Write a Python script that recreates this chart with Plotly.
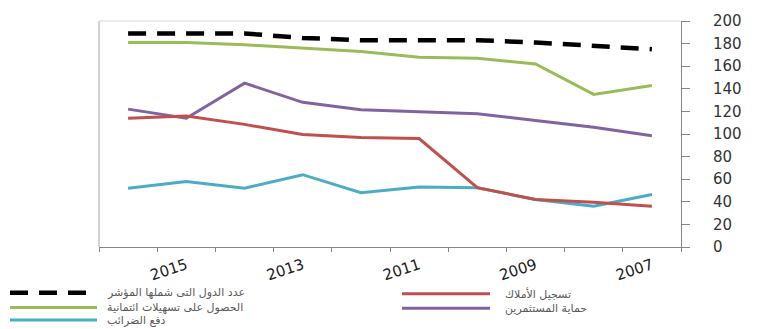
import plotly.graph_objects as go

years = ["2016", "2015", "2014", "2013", "2012", "2011", "2010", "2009", "2008", "2007"]
tick_text = ["", "2015", "", "2013", "", "2011", "", "2009", "", "2007"]

economies = [189, 189, 189, 185, 183, 183, 183, 181, 178, 175]
credit = [181, 181, 179, 176, 173, 168, 167, 162, 135, 143]
investors = [122, 114, 145, 128, 121.5, 119.5, 118, 112, 106, 98.5]
property_reg = [114, 116, 108.5, 99.5, 97, 96, 52.5, 42, 39.5, 36]
taxes = [52, 58, 52, 64, 48, 53, 52.5, 42, 36, 46.5]

names = {
    "economies": "عدد الدول التى شملها المؤشر",
    "credit": "الحصول على تسهيلات ائتمانية",
    "taxes": "دفع الضرائب",
    "property": "تسجيل الأملاك",
    "investors": "حماية المستثمرين",
}
colors = {
    "economies": "#000000",
    "credit": "#9BBB59",
    "taxes": "#4BACC6",
    "property": "#C0504D",
    "investors": "#8064A2",
}
widths = {"economies": 4.5, "credit": 3, "taxes": 3, "property": 3, "investors": 3}
dashes = {"economies": "18px,11px", "credit": "solid", "taxes": "solid", "property": "solid", "investors": "solid"}
series = {
    "economies": economies,
    "credit": credit,
    "investors": investors,
    "property": property_reg,
    "taxes": taxes,
}

W, H = 757, 329
L, R, T, B = 99, 681, 15, 247

fig = go.Figure()
for key in ["taxes", "investors", "property", "credit", "economies"]:
    fig.add_trace(go.Scatter(
        x=years, y=series[key], mode="lines", name=names[key],
        line=dict(color=colors[key], width=widths[key], dash=dashes[key]),
        showlegend=False,
    ))

def px_x(p):
    return (p - L) / (R - L)

def px_y(p):
    return (B - p) / (B - T)

shapes = [
    dict(type="line", xref="paper", yref="paper", x0=0, x1=0, y0=0, y1=1,
         line=dict(color="#a6a6a6", width=1)),
    dict(type="line", xref="paper", yref="paper", x0=0, x1=1, y0=1, y1=1,
         line=dict(color="#d9d9d9", width=1)),
]
annotations = []
legend_items = [
    ("economies", 10, 97, 105, 294),
    ("credit", 10, 97, 105, 309),
    ("taxes", 10, 97, 105, 322),
    ("property", 402, 490, 503, 295),
    ("investors", 402, 490, 503, 310),
]
for key, sx0, sx1, tx, yy in legend_items:
    shapes.append(dict(
        type="line", xref="paper", yref="paper",
        x0=px_x(sx0), x1=px_x(sx1), y0=px_y(yy), y1=px_y(yy),
        line=dict(color=colors[key], width=widths[key], dash=dashes[key]),
    ))
    annotations.append(dict(
        xref="paper", yref="paper", x=px_x(tx), y=px_y(yy),
        text=names[key], showarrow=False, xanchor="left", yanchor="middle",
        font=dict(family="DejaVu Sans", size=11, color="#595959"),
    ))

fig.update_layout(
    width=W, height=H,
    margin=dict(l=L, r=W - R, t=T, b=H - B, pad=0),
    paper_bgcolor="white", plot_bgcolor="white",
    shapes=shapes, annotations=annotations,
    xaxis=dict(
        type="category", categoryorder="array", categoryarray=years,
        tickmode="array", tickvals=years, ticktext=tick_text,
        tickson="boundaries", ticks="outside", ticklen=4, tickcolor="#868686",
        showline=True, linecolor="#868686", linewidth=1,
        showgrid=False, zeroline=False, tickangle=-18,
        ticklabelstandoff=3,
        tickfont=dict(family="DejaVu Sans", size=15, color="#1a1a1a"),
        range=[-0.5, 9.5],
    ),
    yaxis=dict(
        side="right", range=[0, 200], dtick=20, tick0=0,
        ticks="outside", ticklen=8, tickcolor="#868686",
        showline=True, linecolor="#868686", linewidth=1,
        showgrid=False, zeroline=False,
        ticklabelstandoff=20,
        tickfont=dict(family="DejaVu Sans", size=15, color="#333333"),
    ),
)

fig.write_html("out.html")
